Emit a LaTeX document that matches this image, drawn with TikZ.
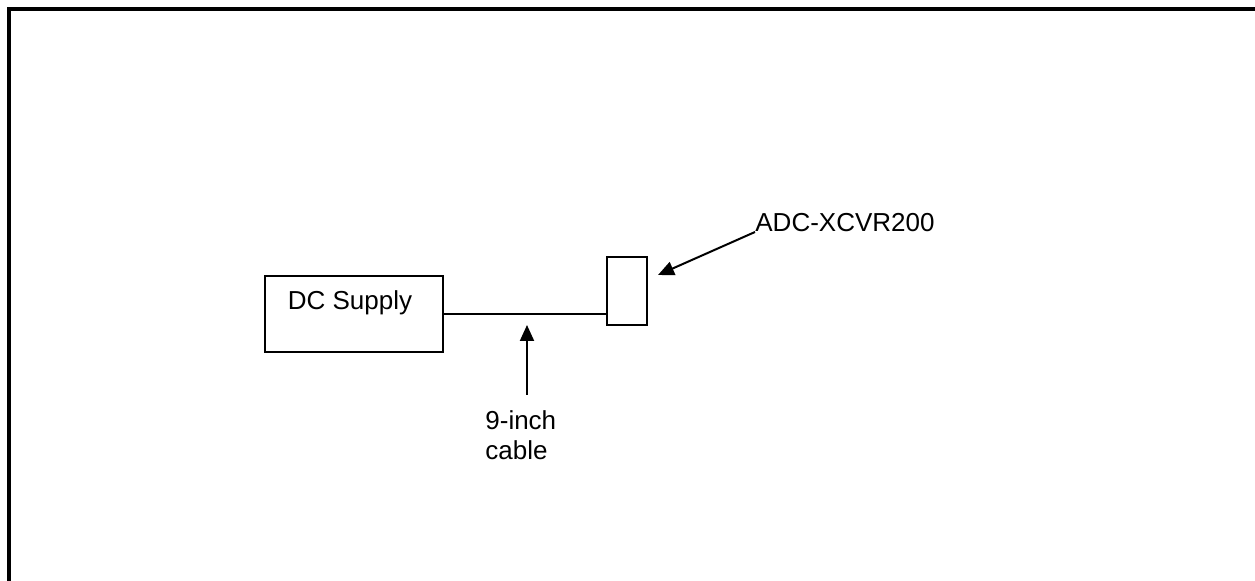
\documentclass[tikz,border=0pt]{standalone}
\usepackage{fontspec}
\setmainfont{Liberation Sans}
\usepackage{xcolor}
\usepackage{tikz}
\usetikzlibrary{arrows.meta,positioning}
\definecolor{linegray}{HTML}{000000}
\tikzset{
  unitbox/.style={
    draw=linegray,
    line width=0.75pt,
    inner sep=0pt
  },
  plaintext/.style={
    font=\fontsize{13}{15}\selectfont,
    inner sep=0pt,
    align=left
  },
  cablewire/.style={
    draw=linegray,
    line width=0.7pt
  },
  pointer/.style={
    -{Triangle[length=8pt,width=7pt]},
    line width=1pt,
    draw=linegray
  }
}

\begin{document}
\begin{tikzpicture}[x=0.5pt,y=-0.5pt]
    \useasboundingbox (0,0) rectangle (1255,581);
    \clip (0,0) rectangle (1255,581);
    \draw[line width=2pt] (9,9) rectangle (1270,600);

    \node[unitbox, minimum width=89pt, minimum height=38pt] (supply) at (354,314) {};
    \node[plaintext] (supplytext) at (350,303) {DC Supply};
    \node[unitbox, minimum width=20pt, minimum height=34pt] (xcvr) at (627,291) {};

    \draw[cablewire] (supply.east) -- (supply.east -| xcvr.west);

    \coordinate (cabletip) at (527,325);
    \node[plaintext, anchor=north west] (cabletext) at (485,410) {9-inch\\cable};
    \draw[pointer] (cabletext.north -| cabletip) ++(0,-15) -- (cabletip);

    \coordinate (xcvrtip) at (658,275);
    \node[plaintext, anchor=base west] (adc) at (755,232) {ADC-XCVR200};
    \draw[pointer] (adc.base west) -- (xcvrtip);
\end{tikzpicture}
\end{document}
